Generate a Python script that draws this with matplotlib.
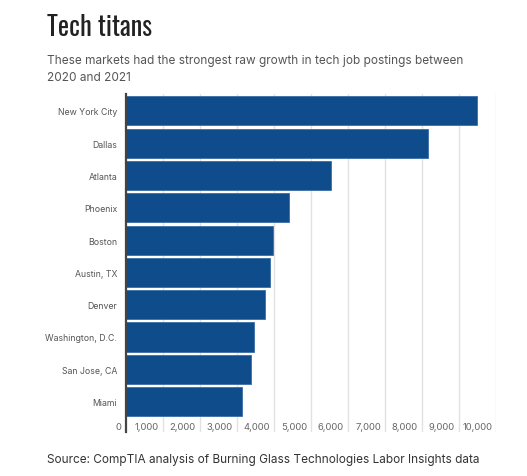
import matplotlib.pyplot as plt

# data
cities = ['New York City', 'Dallas', 'Atlanta', 'Phoenix', 'Boston', 'Austin, TX',
          'Denver', 'Washington, D.C.', 'San Jose, CA', 'Miami']
postings = [9480, 8170, 5560, 4400, 3990, 3900, 3770, 3480, 3380, 3140]
ticks = [0, 1000, 2000, 3000, 4000, 5000, 6000, 7000, 8000, 9000, 10000]

W, H = 527, 477
fig = plt.figure(figsize=(W / 100, H / 100), dpi=100)
fig.patch.set_facecolor('white')

ax = fig.add_axes([125.5 / W, 1 - 433 / H, (496 - 125.5) / W, (433 - 95) / H])
ypos = list(range(len(cities)))
ax.barh(ypos, postings, height=0.9, color='#0f4c8c', edgecolor='#3a6ea8', linewidth=0.6, zorder=3)

ax.set_xlim(0, 10000)
ax.set_ylim(9.94, -0.52)
for t in ticks[1:]:
    ax.axvline(t, color='#e2e2e2', linewidth=1, zorder=1)

for s in ['top', 'right', 'bottom']:
    ax.spines[s].set_visible(False)
ax.spines['left'].set_color('#444444')
ax.spines['left'].set_linewidth(1.6)
ax.spines['left'].set_zorder(4)

ax.set_xticks([])
ax.set_yticks(ypos)
ax.set_yticklabels(cities, fontsize=6.3, color='#555555', family='Inter')
ax.tick_params(axis='y', length=0, pad=6)

for t in ticks:
    ax.annotate(f'{t:,}', xy=(t, 9.78), xytext=(-2.8, 0), textcoords='offset points',
                ha='right', va='center', fontsize=6.8, color='#666666', family='Inter')

# condensed headline font, falls back if missing
fig.text(47 / W, 1 - 36 / H, 'Tech titans', fontsize=19, fontweight='bold',
         family=['Oswald', 'Roboto Condensed', 'DejaVu Sans'], color='#222222', va='baseline')
fig.text(47 / W, 1 - 81 / H, 'These markets had the strongest raw growth in tech job postings between\n2020 and 2021',
         fontsize=8.5, color='#555555', family='Inter', va='baseline', linespacing=1.55)
fig.text(47 / W, 1 - 463 / H, 'Source: CompTIA analysis of Burning Glass Technologies Labor Insights data',
         fontsize=8.5, color='#333333', family='Inter', va='baseline')

fig.savefig('out.png', dpi=100)
